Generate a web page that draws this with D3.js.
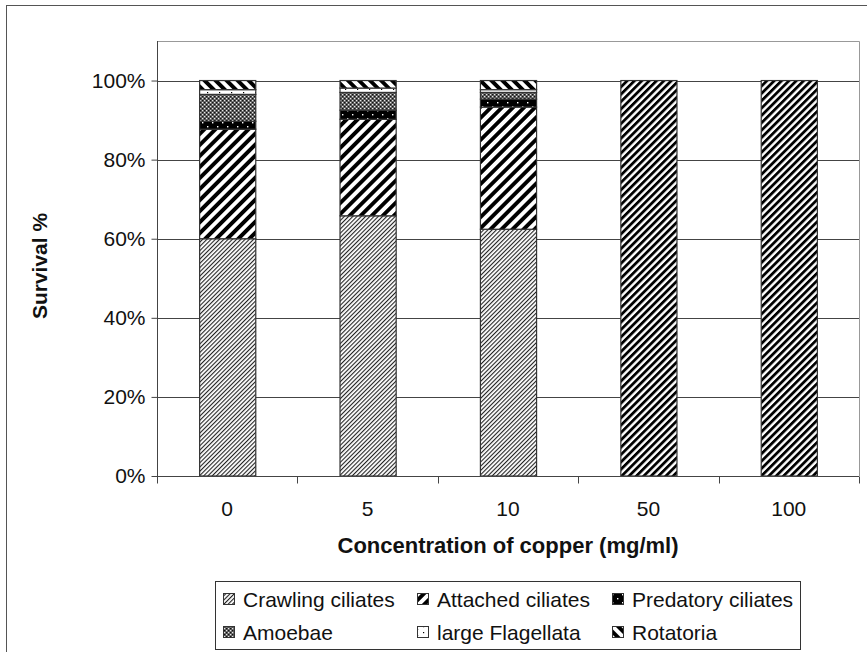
<!DOCTYPE html>
<html>
<head>
<meta charset="utf-8">
<script src="https://cdn.jsdelivr.net/npm/d3@7"></script>
<style>
  html, body { margin: 0; padding: 0; background: #fff; }
  svg { display: block; font-family: "Liberation Sans", Arial, sans-serif; }
</style>
</head>
<body>
<svg id="chart" width="867" height="652"></svg>
<script>
// Copper concentrations (x categories)
const categories = ["0", "5", "10", "50", "100"];

// Share of each organism group in the surviving community (%), bottom to top
const crawlingCiliates  = [60.0, 65.8, 62.4, 0, 0];
const attachedCiliates  = [27.7, 24.4, 30.9, 100, 100];
const predatoryCiliates = [2.0, 2.3, 2.0, 0, 0];
const amoebae           = [6.8, 4.5, 1.7, 0, 0];
const largeFlagellata   = [1.2, 1.1, 0.7, 0, 0];
const rotatoria         = [2.3, 1.9, 2.3, 0, 0];

const seriesNames = ["Crawling ciliates", "Attached ciliates", "Predatory ciliates",
                     "Amoebae", "large Flagellata", "Rotatoria"];
const yTicks = [0, 20, 40, 60, 80, 100];

const seriesValues = [crawlingCiliates, attachedCiliates, predatoryCiliates,
                      amoebae, largeFlagellata, rotatoria];

const svg = d3.select("#chart");
const defs = svg.append("defs");

// ---- fill patterns ----
function stripePattern(id, period, thick, angle, ink) {
  const p = defs.append("pattern").attr("id", id)
    .attr("patternUnits", "userSpaceOnUse")
    .attr("width", period).attr("height", period)
    .attr("patternTransform", `rotate(${angle})`);
  p.append("rect").attr("width", period).attr("height", period).attr("fill", "#fff");
  p.append("rect").attr("width", thick).attr("height", period).attr("fill", ink || "#000");
}
stripePattern("pCrawl", 3, 1.1, 45, "#222");
stripePattern("pAttached", 7.8, 3.9, 45);
stripePattern("pAttachedNarrow", 5.2, 2.8, 45);
stripePattern("pRotatoria", 7.8, 3.9, -45);
// dotted black
(function () {
  const p = defs.append("pattern").attr("id", "pPred")
    .attr("patternUnits", "userSpaceOnUse").attr("width", 10).attr("height", 8);
  p.append("rect").attr("width", 10).attr("height", 8).attr("fill", "#000");
  p.append("rect").attr("x", 2).attr("y", 2).attr("width", 1.4).attr("height", 1.4).attr("fill", "#fff");
  p.append("rect").attr("x", 7).attr("y", 6).attr("width", 1.4).attr("height", 1.4).attr("fill", "#fff");
})();
// grey checker
(function () {
  const p = defs.append("pattern").attr("id", "pAmoeba")
    .attr("patternUnits", "userSpaceOnUse").attr("width", 4).attr("height", 4);
  p.append("rect").attr("width", 4).attr("height", 4).attr("fill", "#5e5e5e");
  [[0, 0], [2, 2]].forEach(([x, y]) =>
    p.append("rect").attr("x", x).attr("y", y).attr("width", 1.2).attr("height", 1.2).attr("fill", "#e8e8e8"));
  [[2, 0], [0, 2]].forEach(([x, y]) =>
    p.append("rect").attr("x", x).attr("y", y).attr("width", 1.2).attr("height", 1.2).attr("fill", "#111"));
})();
// sparse dots on white
(function () {
  const p = defs.append("pattern").attr("id", "pFlag")
    .attr("patternUnits", "userSpaceOnUse").attr("width", 12).attr("height", 6);
  p.append("rect").attr("width", 12).attr("height", 6).attr("fill", "#fff");
  p.append("rect").attr("x", 3).attr("y", 2).attr("width", 1.2).attr("height", 1.2).attr("fill", "#000");
  p.append("rect").attr("x", 9).attr("y", 5).attr("width", 1.2).attr("height", 1.2).attr("fill", "#000");
})();

const seriesFill = ["url(#pCrawl)", "url(#pAttached)", "url(#pPred)",
                    "url(#pAmoeba)", "url(#pFlag)", "url(#pRotatoria)"];
// single-point fill overrides: [seriesIndex, categoryIndex, fill]
const pointFill = [[1, 3, "url(#pAttachedNarrow)"], [1, 4, "url(#pAttachedNarrow)"]];

// ---- outer frame ----
svg.append("rect").attr("x", 6.5).attr("y", 5.5).attr("width", 880).attr("height", 680)
  .attr("fill", "none").attr("stroke", "#555").attr("stroke-width", 1);

// ---- layout ----
const plot = { left: 157, top: 41, right: 859, bottom: 476 };

const x = d3.scaleBand().domain(categories)
  .range([plot.left, plot.right]).paddingInner(0.6).paddingOuter(0.3);
const xEdge = d3.scaleBand().domain(categories).range([plot.left, plot.right]);
const y = d3.scaleLinear().domain([0, 110]).range([plot.bottom, plot.top]);

// plot area frame (top/right)
svg.append("path")
  .attr("d", `M${plot.left},${plot.top + 0.5}H${plot.right + 0.5}V${plot.bottom}`)
  .attr("fill", "none").attr("stroke", "#999").attr("stroke-width", 1);

// gridlines
svg.append("g").selectAll("line").data(yTicks.filter(d => d > 0)).join("line")
  .attr("x1", plot.left).attr("x2", plot.right)
  .attr("y1", d => Math.round(y(d)) + 0.5).attr("y2", d => Math.round(y(d)) + 0.5)
  .attr("stroke", "#444").attr("stroke-width", 1);

// ---- stacked bars ----
const rows = categories.map((c, i) => {
  const r = { cat: c };
  seriesNames.forEach((s, k) => r[s] = seriesValues[k][i]);
  return r;
});
const stacked = d3.stack().keys(seriesNames)(rows);

stacked.forEach((layer, k) => {
  svg.append("g").selectAll("rect").data(layer.map((d, i) => ({ d, i })))
    .join("rect")
    .filter(o => o.d[1] - o.d[0] > 0)
    .attr("x", o => x(categories[o.i]) + 0.5)
    .attr("width", x.bandwidth())
    .attr("y", o => y(o.d[1]))
    .attr("height", o => y(o.d[0]) - y(o.d[1]))
    .attr("fill", o => {
      const ov = pointFill.find(p => p[0] === k && p[1] === o.i);
      return ov ? ov[2] : seriesFill[k];
    })
    .attr("stroke", "#333").attr("stroke-width", 1.2);
});

// ---- axes ----
const yAxis = svg.append("g").attr("transform", `translate(${plot.left + 0.5},0)`)
  .call(d3.axisLeft(y).tickValues(yTicks).tickSize(6).tickPadding(6)
    .tickFormat(d => d + "%"));
yAxis.select(".domain").attr("stroke", "#444").attr("d", `M0,${plot.top}V${plot.bottom + 7}`);
yAxis.selectAll(".tick line").attr("stroke", "#444");
yAxis.selectAll(".tick text").attr("font-size", 21).attr("fill", "#111")
  .attr("font-family", "Liberation Sans, Arial, sans-serif");

const xAxis = svg.append("g").attr("transform", `translate(0,${plot.bottom + 0.5})`);
xAxis.append("line").attr("x1", plot.left).attr("x2", plot.right)
  .attr("stroke", "#444");
xAxis.selectAll("line.tk").data(categories.concat(["end"])).join("line")
  .attr("class", "tk")
  .attr("x1", (d, i) => i < categories.length ? Math.round(xEdge(d)) + 0.5 : plot.right + 0.5)
  .attr("x2", (d, i) => i < categories.length ? Math.round(xEdge(d)) + 0.5 : plot.right + 0.5)
  .attr("y1", 0).attr("y2", 7).attr("stroke", "#444");
xAxis.selectAll("text").data(categories).join("text")
  .attr("x", d => xEdge(d) + xEdge.bandwidth() / 2)
  .attr("y", 39)
  .attr("text-anchor", "middle").attr("font-size", 21).attr("fill", "#111")
  .text(d => d);

// ---- titles ----
svg.append("text").attr("x", (plot.left + plot.right) / 2).attr("y", 553)
  .attr("text-anchor", "middle").attr("font-size", 22).attr("font-weight", "bold")
  .attr("fill", "#111").text("Concentration of copper (mg/ml)");
svg.append("text").attr("transform", "translate(47,266) rotate(-90)")
  .attr("text-anchor", "middle").attr("font-size", 21).attr("font-weight", "bold")
  .attr("fill", "#111").text("Survival %");

// ---- legend ----
const legend = svg.append("g");
legend.append("rect").attr("x", 215.5).attr("y", 581.5).attr("width", 585).attr("height", 68)
  .attr("fill", "#fff").attr("stroke", "#333").attr("stroke-width", 1);
const colX = [223, 417, 612];
const rowY = [599, 632];
seriesNames.forEach((s, k) => {
  const cx = colX[k % 3], cy = rowY[Math.floor(k / 3)];
  legend.append("rect").attr("x", cx + 0.5).attr("y", cy - 5.5).attr("width", 11).attr("height", 11)
    .attr("fill", seriesFill[k]).attr("stroke", "#333").attr("stroke-width", 1);
  legend.append("text").attr("x", cx + 20).attr("y", cy).attr("dy", "0.36em")
    .attr("font-size", 21).attr("fill", "#111").text(s);
});
</script>
</body>
</html>
